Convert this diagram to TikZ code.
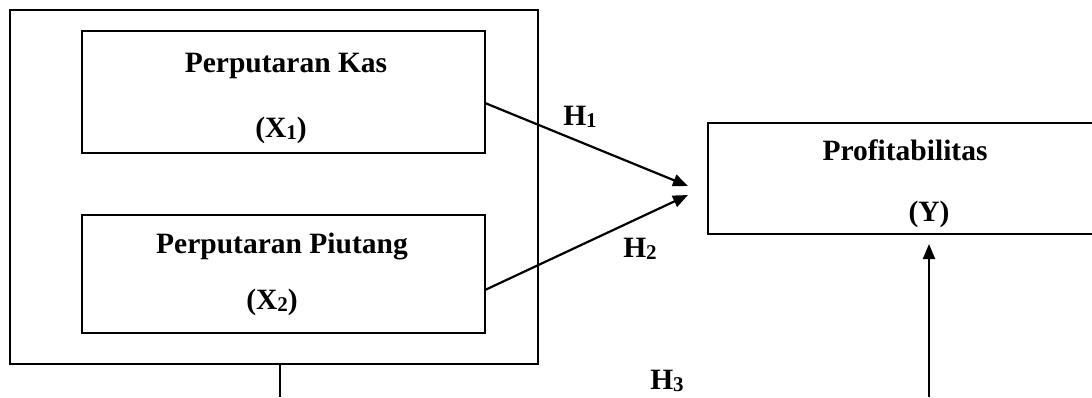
\documentclass[tikz,border=0pt]{standalone}
\usepackage{fontspec}
\setmainfont{Liberation Serif}
\usetikzlibrary{arrows.meta}
% smaller index digit, sitting slightly below the baseline
\newcommand{\lowsub}[1]{\raisebox{-0.08em}{\fontsize{21}{22}\selectfont #1}}

\begin{document}
\begin{tikzpicture}[x=1pt,y=-1pt,
  frame/.style={draw,line width=1.7pt,inner sep=0pt,outer sep=0pt},
  lbl/.style={font=\fontsize{29.5}{34}\selectfont\bfseries,anchor=base,inner sep=0pt},
  link/.style={line width=2.2pt,-{Triangle[length=15pt,width=12pt]}}]
\useasboundingbox (0,0) rectangle (1092,397);

% group frame and the two independent variables
\node[frame,minimum width=528pt,minimum height=354pt] (outer) at (274,187) {};
\node[frame,minimum width=403pt,minimum height=122pt] (box1) at (283.5,92) {};
\node[frame,minimum width=403pt,minimum height=118pt] (box2) at (283.5,274) {};
% dependent variable
\node[frame,minimum width=392pt,minimum height=111pt] (profit) at (904,178.5) {};

\node[lbl] (t1) at (286,72) {Perputaran Kas};
\node[lbl] (x1) at (281,137) {(X\lowsub{1})};
\node[lbl] (t2) at (282,253) {Perputaran Piutang};
\node[lbl] (x2) at (272,309) {(X\lowsub{2})};
\node[lbl] (ty) at (905,160) {Profitabilitas};
\node[lbl] (yy) at (929,221) {(Y)};

% hypotheses
\draw[link] ([yshift=-11pt]box1.east) -- ([xshift=-20pt,yshift=-7.5pt]profit.west);
\draw[link] ([yshift=-16pt]box2.east) -- ([xshift=-20pt,yshift=-16.5pt]profit.west);
\node[lbl] (h1) at (580,125) {H\lowsub{1}};
\node[lbl] (h2) at (640,257) {H\lowsub{2}};
\node[lbl] (h3) at (667,389) {H\lowsub{3}};

\coordinate (drop) at (280,397);
\draw[line width=1.7pt] (drop |- outer.south) -- (drop);
\coordinate (rise) at (929,397);
\draw[link] (rise) -- ([yshift=-10pt]profit.south -| rise);
\end{tikzpicture}
\end{document}
